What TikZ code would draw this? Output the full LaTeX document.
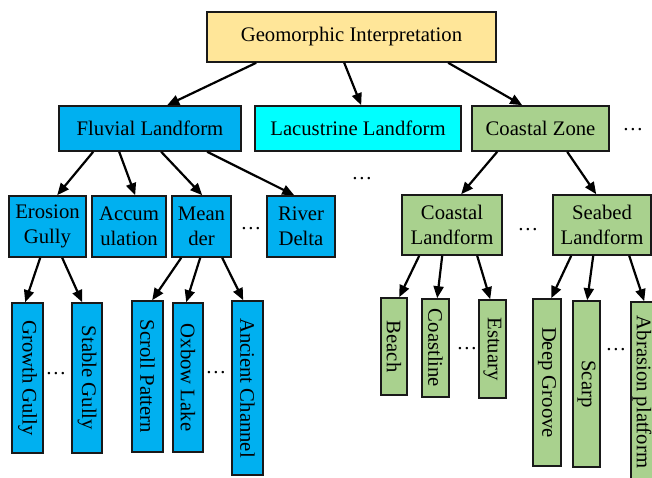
\documentclass[tikz,border=0pt]{standalone}
\usepackage{fontspec}
\setmainfont{Liberation Serif}
\usetikzlibrary{arrows.meta}
\definecolor{rootc}{HTML}{FFE699}
\definecolor{fluvc}{HTML}{00B0F0}
\definecolor{lacc}{HTML}{00FFFF}
\definecolor{greenc}{HTML}{A9D18E}
\tikzset{
  box/.style={draw=black!90, line width=1.6pt, inner sep=0pt, align=center,
    font=\fontsize{20.7}{25}\selectfont},
  fbox/.style={box, fill=fluvc},
  gbox/.style={box, fill=greenc},
  arr/.style={draw=black, line width=2.2pt, -{Triangle[length=12pt,width=10pt]}},
  dotsn/.style={inner sep=0pt, anchor=base, font=\fontsize{20.7}{25}\selectfont},
}
\newcommand\vtxt[1]{\rotatebox{-90}{#1}}
\begin{document}
\begin{tikzpicture}[x=1pt,y=-1pt]
\clip (0,0) rectangle (652,477);
\fill[white] (0,0) rectangle (652,477);
% level 0
\node[box, fill=rootc, minimum width=289pt, minimum height=50pt] (root) at (351.5,37) {Geomorphic Interpretation};
% level 1
\node[fbox, minimum width=182pt, minimum height=45pt] (fluv) at (150,128.5) {Fluvial Landform};
\node[box, fill=lacc, minimum width=206pt, minimum height=45pt] (lac) at (358,128.5) {Lacustrine Landform};
\node[gbox, minimum width=137pt, minimum height=45pt] (coast) at (540.5,128.5) {Coastal Zone};
% level 2
\node[fbox, minimum width=77pt, minimum height=61pt] (ero) at (47.5,226.5) {Erosion\\Gully};
\node[fbox, minimum width=74pt, minimum height=61pt] (acc) at (129,226.5) {Accum\\ulation};
\node[fbox, minimum width=59pt, minimum height=61pt] (mea) at (201.5,226.5) {Mean\\der};
\node[fbox, minimum width=68pt, minimum height=61pt] (del) at (301,226.5) {River\\Delta};
\node[gbox, minimum width=100pt, minimum height=60pt] (cl) at (452,225) {Coastal\\Landform};
\node[gbox, minimum width=98pt, minimum height=60pt] (sb) at (602,225) {Seabed\\Landform};
% level 3
\node[fbox, minimum width=31pt, minimum height=150pt] (growth) at (27.5,378) {\vtxt{Growth Gully}};
\node[fbox, minimum width=30pt, minimum height=150pt] (stable) at (87,378) {\vtxt{Stable Gully}};
\node[fbox, minimum width=31pt, minimum height=151pt] (scroll) at (147.5,376.5) {\vtxt{Scroll Pattern}};
\node[fbox, minimum width=30pt, minimum height=149pt] (oxbow) at (188,377.5) {\vtxt{Oxbow Lake}};
\node[fbox, minimum width=31pt, minimum height=174pt] (anc) at (247.5,388) {\vtxt{Ancient Channel}};
\node[gbox, minimum width=26pt, minimum height=97pt] (beach) at (394,346.5) {\vtxt{Beach}};
\node[gbox, minimum width=27pt, minimum height=98pt] (cline) at (435.5,348) {\vtxt{Coastline}};
\node[gbox, minimum width=27pt, minimum height=98pt] (est) at (492.5,349) {\vtxt{Estuary}};
\node[gbox, minimum width=28pt, minimum height=167pt] (deep) at (547,382.5) {\vtxt{Deep Groove}};
\node[gbox, minimum width=27pt, minimum height=166pt] (scarp) at (586.5,384) {\vtxt{Scarp}};
\node[gbox, minimum width=31pt, minimum height=180pt] (abr) at (646.5,392) {\hbox{\vtxt{Abrasion platform}\hspace{9pt}}};
% dots
\node[dotsn] (d1) at (633,130) {…};
\node[dotsn] (d2) at (362,179) {…};
\node[dotsn] (d3) at (251,229) {…};
\node[dotsn] (d4) at (528,230) {…};
\node[dotsn] (d5) at (56,374) {…};
\node[dotsn] (d6) at (216,373) {…};
\node[dotsn] (d7) at (467,349) {…};
\node[dotsn] (d8) at (616,350) {…};
% connectors
\draw[arr] ([xshift=50pt]root.south west) -- ([xshift=109pt]fluv.north west);
\draw[arr] ([xshift=138pt]root.south west) -- ([xshift=107pt]lac.north west);
\draw[arr] ([xshift=242pt]root.south west) -- ([xshift=51pt]coast.north west);
\draw[arr] ([xshift=35pt]fluv.south west) -- ([xshift=49pt]ero.north west);
\draw[arr] ([xshift=61pt]fluv.south west) -- ([xshift=44pt]acc.north west);
\draw[arr] ([xshift=103pt]fluv.south west) -- ([xshift=31pt]mea.north west);
\draw[arr] ([xshift=149pt]fluv.south west) -- ([xshift=28pt]del.north west);
\draw[arr] ([xshift=26pt]coast.south west) -- ([xshift=60pt]cl.north west);
\draw[arr] ([xshift=96pt]coast.south west) -- ([xshift=44pt]sb.north west);
\draw[arr] ([xshift=32pt]ero.south west) -- ([xshift=14pt]growth.north west);
\draw[arr] ([xshift=54pt]ero.south west) -- ([xshift=11pt]stable.north west);
\draw[arr] ([xshift=10pt]mea.south west) -- ([xshift=21pt]scroll.north west);
\draw[arr] ([xshift=29pt]mea.south west) -- ([xshift=14pt]oxbow.north west);
\draw[arr] ([xshift=51pt]mea.south west) -- ([xshift=12pt]anc.north west);
\draw[arr] ([xshift=18pt]cl.south west) -- ([xshift=19pt]beach.north west);
\draw[arr] ([xshift=41pt]cl.south west) -- ([xshift=16pt]cline.north west);
\draw[arr] ([xshift=76pt]cl.south west) -- ([xshift=12pt]est.north west);
\draw[arr] ([xshift=19pt]sb.south west) -- ([xshift=19pt]deep.north west);
\draw[arr] ([xshift=41pt]sb.south west) -- ([xshift=15pt]scarp.north west);
\draw[arr] ([xshift=77pt]sb.south west) -- ([xshift=14pt]abr.north west);
\end{tikzpicture}
\end{document}
